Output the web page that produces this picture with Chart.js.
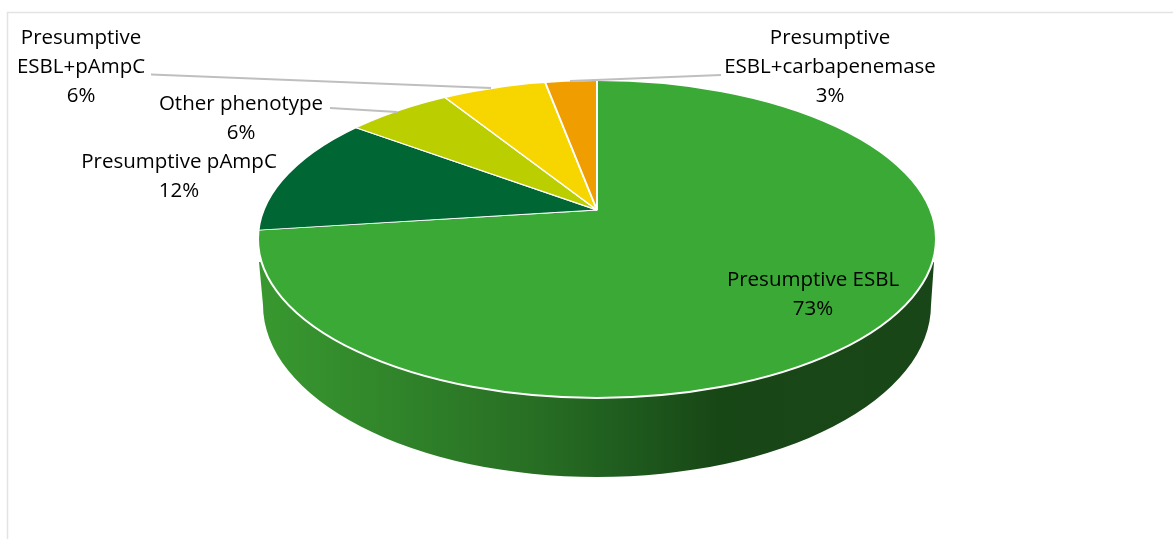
<!DOCTYPE html>
<html>
<head>
<meta charset="utf-8">
<title>Phenotypes</title>
<script src="https://cdn.jsdelivr.net/npm/chart.js@4"></script>
<style>
  html, body { margin: 0; padding: 0; background: #fff; overflow: hidden; }
  canvas { display: block; }
</style>
</head>
<body>
<canvas id="myChart" width="1173" height="539"></canvas>
<script>
var categories = ['Presumptive ESBL', 'Presumptive pAmpC', 'Other phenotype', 'Presumptive ESBL+pAmpC', 'Presumptive ESBL+carbapenemase'];
var shares = [73, 12, 6, 6, 3];
var sliceColors = ['#3aa935', '#006633', '#bbcf00', '#f7d600', '#f09d00'];

// label anchors: centre x, first line y, where the category wraps
var labelSpots = [
    { x: 813, y: 280, wrap: false },
    { x: 179, y: 162, wrap: false },
    { x: 241, y: 104, wrap: false },
    { x: 81, y: 38, wrap: true },
    { x: 830, y: 38, wrap: true }
];
var leaders = [
    [151, 74.5, 491, 88],
    [330, 108, 397, 112],
    [721, 75, 570, 81]
];

// top face of the disc and the lower rim of its wall
var face = { x: 597, y: 239, rx: 339, ry: 159 };
var rim = { x: 597, y: 305, rx: 334, ry: 172 };
var tilt = 0.47;

function ellipsePath(ctx, e) {
    ctx.beginPath();
    ctx.ellipse(e.x, e.y, e.rx, e.ry, 0, 0, Math.PI * 2);
}

var disc3d = {
    id: 'disc3d',
    beforeDraw: function (chart) {
        var ctx = chart.ctx;
        ctx.save();
        ctx.strokeStyle = '#e3e3e3';
        ctx.lineWidth = 1.5;
        ctx.beginPath();
        ctx.moveTo(7.5, 540);
        ctx.lineTo(7.5, 12.5);
        ctx.lineTo(1174, 12.5);
        ctx.stroke();
        ctx.restore();
    },
    beforeDatasetsDraw: function (chart) {
        var ctx = chart.ctx;
        var arc = chart.getDatasetMeta(0).data[0];

        // side wall
        var shade = ctx.createLinearGradient(263, 0, 930, 0);
        shade.addColorStop(0, '#38982f');
        shade.addColorStop(0.2, '#30842a');
        shade.addColorStop(0.4, '#286f24');
        shade.addColorStop(0.52, '#205f1f');
        shade.addColorStop(0.68, '#184716');
        shade.addColorStop(1, '#194618');
        ctx.save();
        ctx.fillStyle = shade;
        ctx.beginPath();
        ctx.moveTo(259, 262);
        ctx.lineTo(263, rim.y);
        ctx.ellipse(rim.x, rim.y, rim.rx, rim.ry, 0, Math.PI, 0, true);
        ctx.lineTo(934, 262);
        ctx.closePath();
        ctx.fill();
        ctx.restore();

        // slices are drawn flattened and cut to the face
        ctx.save();
        ellipsePath(ctx, face);
        ctx.clip();
        ctx.translate(arc.x, arc.y);
        ctx.scale(1, tilt);
        ctx.translate(-arc.x, -arc.y);
    },
    afterDatasetsDraw: function (chart) {
        var ctx = chart.ctx;
        ctx.restore();

        ctx.save();
        ctx.strokeStyle = '#ffffff';
        ctx.lineWidth = 2;
        ellipsePath(ctx, face);
        ctx.stroke();

        ctx.strokeStyle = '#bfbfbf';
        ctx.lineWidth = 1.8;
        leaders.forEach(function (l) {
            ctx.beginPath();
            ctx.moveTo(l[0], l[1]);
            ctx.lineTo(l[2], l[3]);
            ctx.stroke();
        });

        ctx.fillStyle = '#000000';
        ctx.font = '20.5px "Open Sans"';
        ctx.textAlign = 'center';
        ctx.textBaseline = 'middle';
        categories.forEach(function (name, i) {
            var spot = labelSpots[i];
            var lines = [name];
            if (spot.wrap) {
                lines = [name.slice(0, name.indexOf(' ')), name.slice(name.indexOf(' ') + 1)];
            }
            lines.push(shares[i] + '%');
            lines.forEach(function (line, n) {
                ctx.fillText(line, spot.x, spot.y + n * 29);
            });
        });
        ctx.restore();
    }
};

var ctx = document.getElementById('myChart').getContext('2d');
var myChart = new Chart(ctx, {
    type: 'pie',
    data: {
        labels: categories,
        datasets: [{
            data: shares,
            backgroundColor: sliceColors,
            borderColor: '#ffffff',
            borderWidth: 2,
            radius: 520,
            clip: false
        }]
    },
    options: {
        responsive: false,
        animation: false,
        events: [],
        // puts the pie centre at x 597, y 210
        layout: { padding: { left: 21, bottom: 119 } },
        plugins: {
            legend: { display: false },
            tooltip: { enabled: false }
        }
    },
    plugins: [disc3d]
});
</script>
</body>
</html>
